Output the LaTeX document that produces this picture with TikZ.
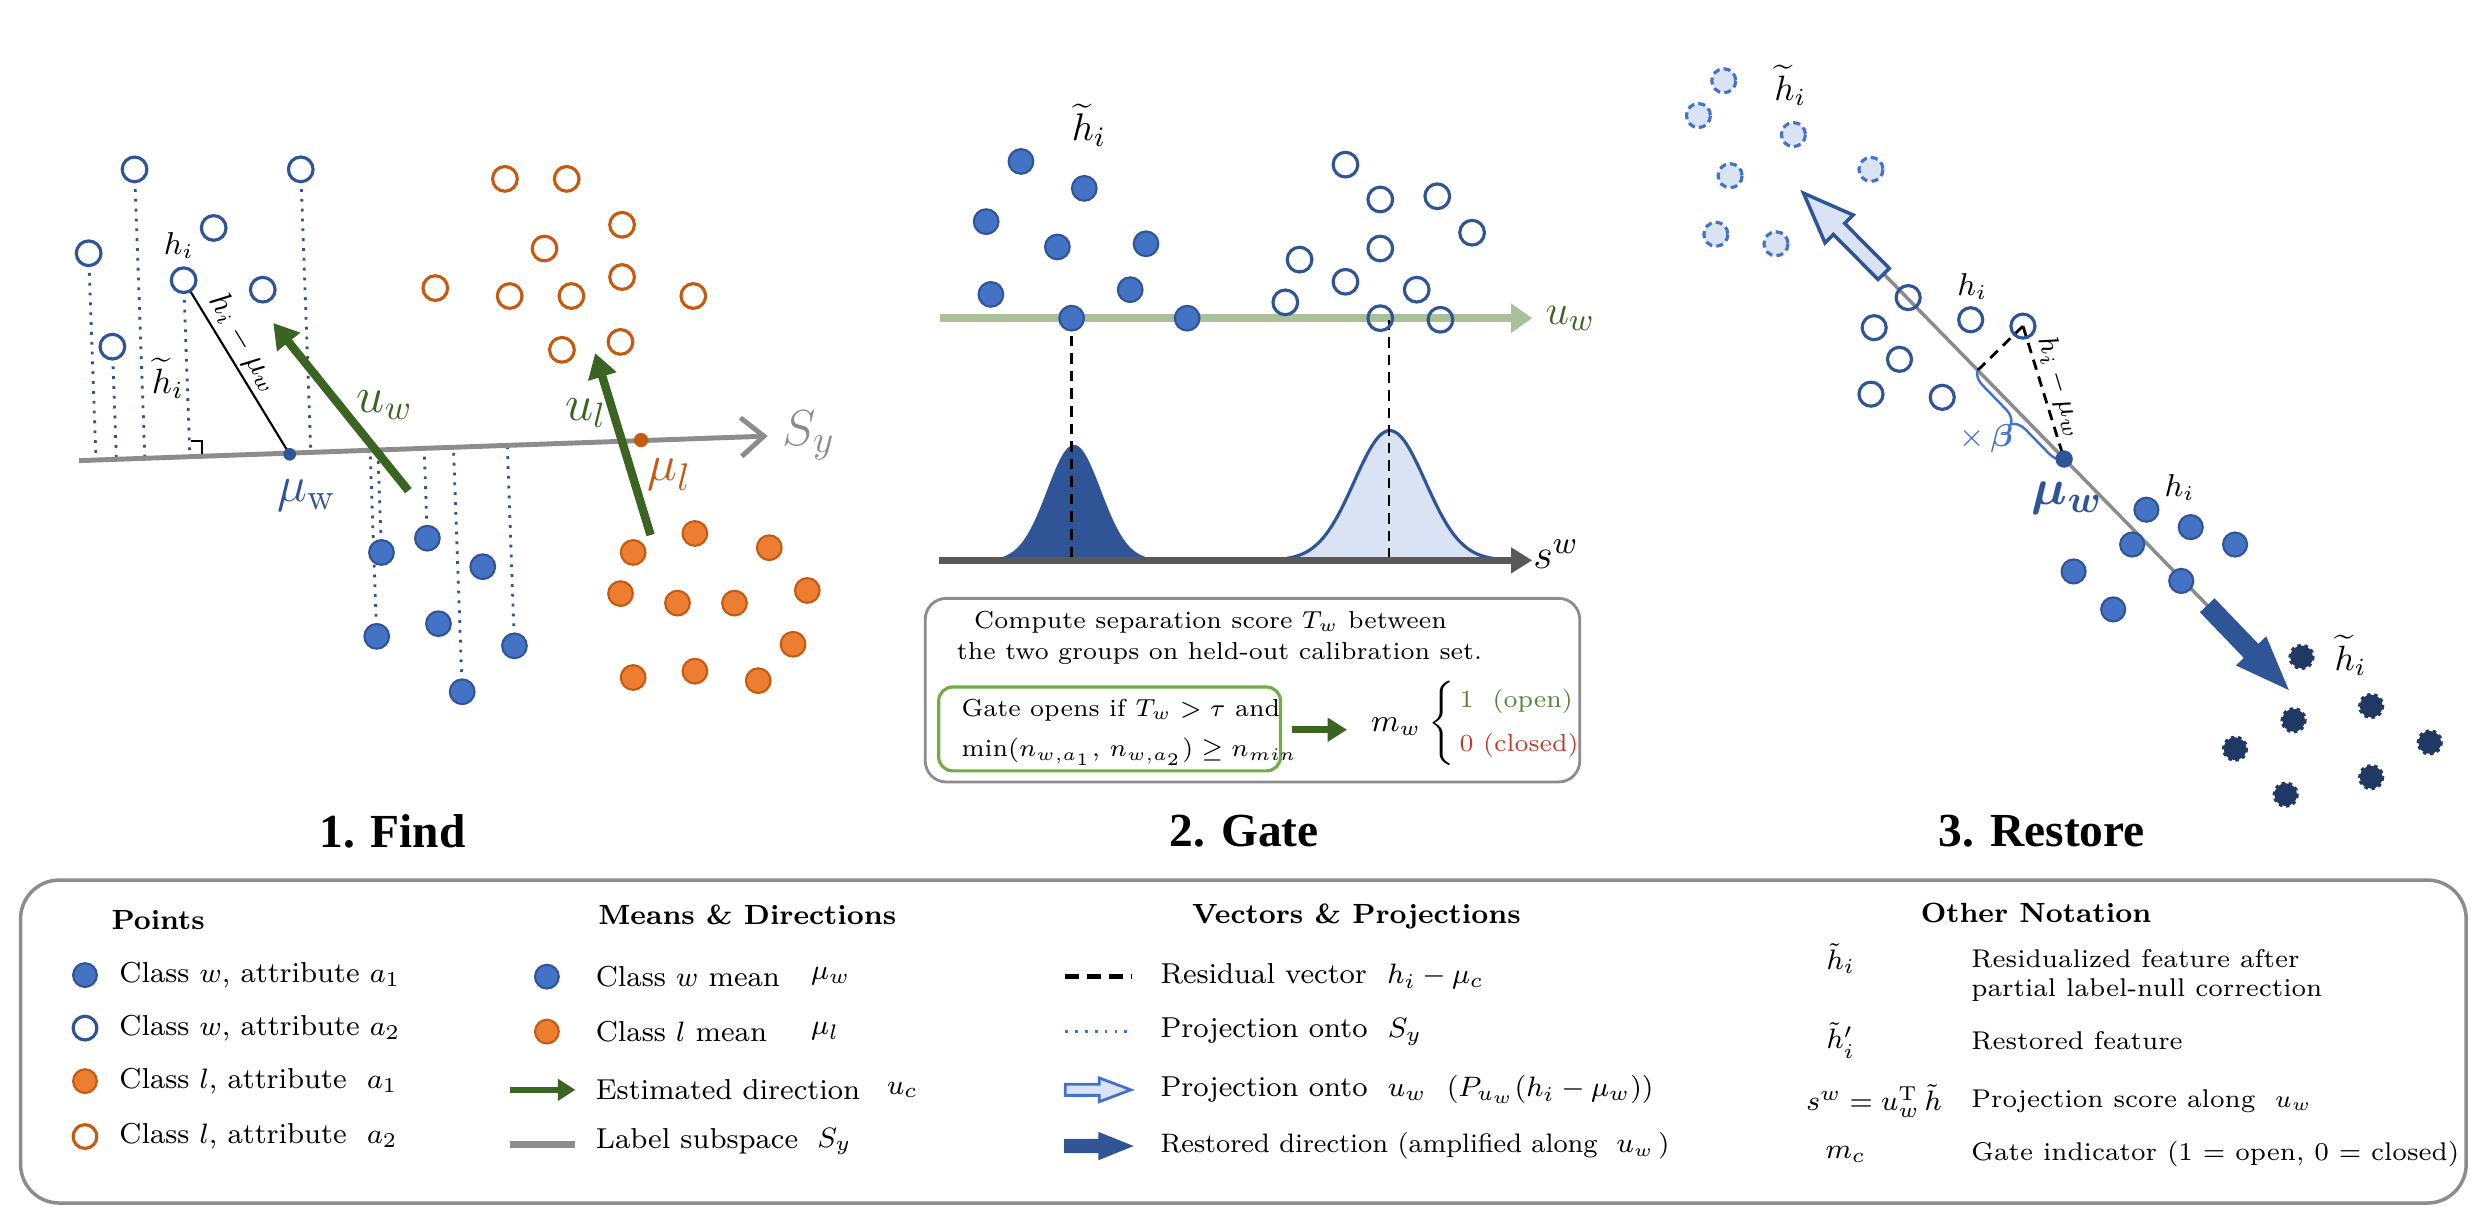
\documentclass[tikz,border=0pt]{standalone}
\usepackage{fontspec}
\usepackage{bm}
\newfontfamily\titlefont{Liberation Serif}
\usetikzlibrary{arrows.meta, calc, decorations.pathreplacing, positioning}
\definecolor{wblue}{HTML}{4472C4}
\definecolor{wedge}{HTML}{2F5597}
\definecolor{lorange}{HTML}{ED7D31}
\definecolor{ledge}{HTML}{C55A11}
\definecolor{dirgreen}{HTML}{3B6321}
\definecolor{axgreen}{HTML}{A9C19A}
\definecolor{paleblue}{HTML}{DAE3F3}
\definecolor{restorenavy}{HTML}{1F3864}
\definecolor{boxgray}{HTML}{8C8C8C}
\definecolor{gategreen}{HTML}{70AD47}
\definecolor{opengreen}{HTML}{548235}
\definecolor{closedred}{HTML}{C0392B}
\tikzset{
	wfill/.style={fill=wblue, draw=wedge, line width=0.6pt},
	wopen/.style={draw=wedge, line width=0.9pt},
	lfill/.style={fill=lorange, draw=ledge, line width=0.6pt},
	lopen/.style={draw=ledge, line width=0.9pt},
	wghost/.style={fill=paleblue, draw=wblue, line width=0.9pt, dash pattern=on 2pt off 1.2pt},
	wdark/.style={fill=restorenavy, draw=restorenavy, line width=1pt, densely dotted},
	projS/.style={draw=wedge, line width=0.8pt, dotted},
	resid/.style={black, line width=0.8pt, dash pattern=on 3pt off 2pt},
	dirarrow/.style={dirgreen, line width=2.4pt, -{Triangle[length=7pt,width=8pt]}},
	lab/.style={inner sep=1pt, font=\fontsize{9}{10}\selectfont},
	biglab/.style={inner sep=1pt, font=\fontsize{14}{16}\selectfont},
	gatetext/.style={anchor=west, inner sep=0pt, font=\fontsize{7}{8.5}\selectfont},
	legtext/.style={anchor=west, inner sep=0pt, font=\fontsize{8.2}{10}\selectfont},
	othtext/.style={anchor=west, inner sep=0pt, font=\fontsize{7.3}{9}\selectfont},
	leghead/.style={anchor=west, inner sep=0pt, font=\fontsize{7.9}{10}\selectfont\bfseries},
	titletext/.style={inner sep=0pt, font=\titlefont\bfseries\fontsize{13.5}{15}\selectfont}
}

\begin{document}
\begin{tikzpicture}[x=0.1583mm, y=-0.1583mm]
	\useasboundingbox (0,0) rectangle (1568,769);

	% 1. Find
	\coordinate (S1) at (50,291);
	\coordinate (S2) at (485,275.5);
	\coordinate (hi) at (116,177);
	\coordinate (muw) at (183,287);
	\coordinate (mul) at (405,278);
	\foreach \x/\y in {56/160,71/219,85/107,116/177,190/107,241/349,270/340,238/402,325/408,292/437}
		\draw[projS] (\x,\y) -- ($(S1)!(\x,\y)!(S2)$);
	\draw[boxgray, line width=1.4pt, -{Straight Barb[length=6.5pt,width=11pt]}] (S1) -- (S2);
	\draw[black, line width=0.5pt] (120.5,278.6) -- (127.6,278.6) -- (127.6,287);
	\draw[black, line width=0.6pt] (hi) -- (muw)
		node[pos=0.42, sloped, above, lab] (hmw) {$h_i-\mu_w$};
	\foreach \x/\y in {85/107,190/107,135/144,56/160,116/177,166/183,71/219}
		\draw[wopen, fill=white] (\x,\y) circle (7.8);
	\foreach \x/\y in {241/349,270/340,305/358,238/402,277/394,325/408,292/437}
		\draw[wfill] (\x,\y) circle (7.8);
	\foreach \x/\y in {319/113,358/113,393/142,344/157,275/182,322/187,361/187,393/175,438/187,355/221,392/216}
		\draw[lopen] (\x,\y) circle (7.8);
	\foreach \x/\y in {400/349,439/337,486/346,392/375,428/381,464/381,510/373,501/407,400/428,439/424,479/430}
		\draw[lfill] (\x,\y) circle (7.8);
	\fill[wedge] (muw) circle (4);
	\fill[ledge] (mul) circle (4.5);
	\draw[dirarrow] (258,310) -- (172.6,204);
	\draw[dirarrow] (411,338) -- (376,223);
	\node[lab] (hilab) at (113,155) {$h_i$};
	\node[lab, font=\fontsize{10}{11}\selectfont] (htlab) at (106,239) {$\widetilde{h}_i$};
	\node[biglab, text=dirgreen] (uwlab) at (243,256) {$u_w$};
	\node[biglab, text=dirgreen] (ullab) at (370,261) {$u_l$};
	\node[biglab, text=wedge, font=\fontsize{15}{16}\selectfont] (muwlab) at (194,313) {$\mu_{\mathrm{w}}$};
	\node[biglab, text=ledge, font=\fontsize{15}{16}\selectfont] (mullab) at (423,300) {$\mu_l$};
	\node[biglab, text=boxgray, font=\fontsize{15}{16}\selectfont] (sylab) at (511,275) {$S_y$};

	% 2. Gate
	\fill[wedge] plot[domain=610:748, samples=80, smooth] (\x,{354-73*exp(-(\x-678.5)*(\x-678.5)/578)}) -- cycle;
	\filldraw[fill=paleblue, draw=wedge, line width=0.9pt] plot[domain=799:957, samples=80, smooth] (\x,{354-82*exp(-(\x-878)*(\x-878)/1012.5)}) -- cycle;
	\draw[axgreen, line width=2.2pt, -{Triangle[length=6pt,width=8pt]}] (594,201) -- (968,201);
	\draw[gray!70!black, line width=1.8pt, -{Triangle[length=6pt,width=7pt]}] (593,354) -- (968,354);
	\coordinate (gw) at (677,201);
	\coordinate (gl) at (877.5,202);
	\draw[resid] (gw) -- (gw |- 0,352);
	\draw[resid] (gl) -- (gl |- 0,352);
	\foreach \x/\y in {645/102,685/119,623/140,668/156,724/154,626/186,714/183,677/201,750/201}
		\draw[wfill] (\x,\y) circle (7.8);
	\foreach \x/\y in {850/104,872/126,908/124,930/147,872/157,821/164,850/178,895/183,812/191,872/201,910/202}
		\draw[wopen] (\x,\y) circle (7.8);
	\node[lab, font=\fontsize{11}{12}\selectfont] (ht2lab) at (688,79) {$\widetilde{h}_i$};
	\node[biglab, text=dirgreen, font=\fontsize{12.5}{14}\selectfont] (uw2lab) at (992,201) {$u_w$};
	\node[biglab, font=\fontsize{13}{14}\selectfont] (swlab) at (983,350) {$s^w$};

	\draw[boxgray, line width=0.8pt, rounded corners=6pt] (584.5,378) rectangle (998,494);
	\node[gatetext] (calc1) at (615,393) {Compute separation score $T_w$ between};
	\node[gatetext] (calc2) at (604,413) {the two groups on held-out calibration set.};
	\draw[gategreen, line width=0.9pt, rounded corners=4pt] (593,434) rectangle (809,487);
	\node[gatetext] (rule1) at (607,448.5) {Gate opens if $T_w>\tau$ and};
	\node[gatetext] (rule2) at (607,475) {$\min(n_{w,a_1},\,n_{w,a_2})\geq n_{min}$};
	\draw[dirgreen, line width=2pt, -{Triangle[length=5.5pt,width=6.5pt]}] (816.5,461) -- (851,461);
	\node[inner sep=0pt, font=\fontsize{9}{10}\selectfont] (mw) at (882,459) {$m_w$};
	\node[anchor=west, inner sep=0pt, font=\fontsize{7}{8.5}\selectfont] (gatecases) at (902,457)
		{$\left\{\,\begin{array}{@{}l@{}}\mbox{\color{opengreen}1~~(open)}\\[4pt]\mbox{\color{closedred}0~(closed)}\end{array}\right.$};

	% 3. Restore
	\coordinate (R1) at (1190,173);
	\coordinate (R2) at (1395,383);
	\coordinate (hi3) at (1278,206);
	\coordinate (muw3) at (1304,290);
	\coordinate (foot3) at ($(R1)!(hi3)!(R2)$);
	\draw[boxgray, line width=1pt] (R1) -- (R2);
	\begin{scope}[shift={(R1)}, rotate=134.8]
		\filldraw[fill=paleblue, draw=wedge, line width=1pt] (0,-5) -- (40,-5) -- (40,-12.5) -- (71.8,0) -- (40,12.5) -- (40,5) -- (0,5) -- cycle;
	\end{scope}
	\begin{scope}[shift={(R2)}, rotate=-46.1]
		\filldraw[fill=wedge, draw=wedge, line width=0.8pt] (0,-5.5) -- (40,-5.5) -- (40,-12) -- (71,0) -- (40,12) -- (40,5.5) -- (0,5.5) -- cycle;
	\end{scope}
	\draw[resid] (hi3) -- (foot3);
	\draw[resid] (hi3) -- (muw3)
		node[midway, sloped, above, lab, font=\fontsize{8.5}{9}\selectfont] (hmw3) {$h_i-\mu_w$};
	\draw[wblue, line width=0.7pt, decorate, decoration={brace, mirror, amplitude=4pt}] (foot3) -- (muw3);
	\foreach \x/\y in {1089/51,1073/73,1133/85,1093/111,1182/107,1084/148,1122/154}
		\draw[wghost] (\x,\y) circle (7.6);
	\foreach \x/\y in {1205.5/188,1184/207,1245/202,1278/206,1200/227,1182/249,1227/251}
		\draw[wopen] (\x,\y) circle (7.6);
	\foreach \x/\y in {1356/322,1384/333,1412/344,1347/344,1378/367,1310/361,1335/385}
		\draw[wfill] (\x,\y) circle (7.6);
	\foreach \x/\y in {1454/415,1449/455,1498/446,1412/473,1535/469,1498/491,1444/502}
		\draw[wdark] (\x,\y) circle (7.2);
	\fill[wedge] (muw3) circle (5.5);
	\node[lab, font=\fontsize{10}{11}\selectfont] (ht3lab) at (1131,54) {$\widetilde{h}_i$};
	\node[lab] (hi3lab) at (1246,181) {$h_i$};
	\node[lab, text=wblue] (betalab) at (1255,277) {$\times\,\bm{\beta}$};
	\node[biglab, text=wedge, font=\fontsize{15}{16}\selectfont] (muw3lab) at (1306,315) {$\bm{\mu_w}$};
	\node[lab] (hi4lab) at (1377,308) {$h_i$};
	\node[lab, font=\fontsize{10}{11}\selectfont] (ht4lab) at (1485,414) {$\widetilde{h}_i$};

	% titles
	\node[titletext] (find) at (248,525) {1. Find};
	\node[titletext] (gate) at (786,525) {2. Gate};
	\node[titletext] (restore) at (1290,525) {3. Restore};

	% legend
	\draw[boxgray, line width=1pt, rounded corners=11pt] (13,556) rectangle (1558,760);
	\node[leghead] (hpoints) at (70,581) {Points};
	\foreach \y/\sty/\txt [count=\k] in {616/wfill/{Class $w$, attribute $a_1$}, 649.5/wopen/{Class $w$, attribute $a_2$}, 683/lfill/{Class $l$, attribute\ \ $a_1$}, 718/lopen/{Class $l$, attribute\ \ $a_2$}}
	{
		\draw[\sty] (53.7,\y) circle (7.5);
		\node[legtext] (pt\k) at (75,\y) {\txt};
	}
	\node[leghead] (hmeans) at (377.5,578) {Means \& Directions};
	\draw[wfill] (345.5,617) circle (7.5);
	\draw[lfill] (345.5,651.7) circle (7.5);
	\draw[dirgreen, line width=1.6pt, -{Triangle[length=5pt,width=6pt]}] (322,688.5) -- (363.5,688.5);
	\draw[boxgray, line width=1.9pt] (322,723) -- (363.5,723);
	\node[legtext] (mn1) at (376,617) {Class $w$ mean};
	\node[legtext] (mn2) at (376,651.7) {Class $l$ mean};
	\node[legtext] (mn3) at (376,688.5) {Estimated direction};
	\node[legtext] (mn4) at (376,721) {Label subspace};
	\node[legtext] (mn1s) at (512,617) {$\mu_w$};
	\node[legtext] (mn2s) at (512,651.7) {$\mu_l$};
	\node[legtext] (mn3s) at (560,688.5) {$u_c$};
	\node[legtext] (mn4s) at (516,721) {$S_y$};
	\node[leghead] (hvec) at (752.7,579) {Vectors \& Projections};
	\draw[black, line width=1.3pt, dash pattern=on 4pt off 2.2pt] (673,617) -- (714.4,617);
	\draw[wblue, line width=0.8pt, dotted] (673,651.7) -- (714.4,651.7);
	\filldraw[fill=paleblue, draw=wblue, line width=0.8pt] (673,685) -- (694.5,685) -- (694.5,681) -- (714.4,688.5) -- (694.5,696) -- (694.5,692) -- (673,692) -- cycle;
	\filldraw[fill=wedge, draw=wedge, line width=0.6pt] (673,720.2) -- (694.5,720.2) -- (694.5,716) -- (714.4,724) -- (694.5,732) -- (694.5,727.8) -- (673,727.8) -- cycle;
	\node[legtext] (vc1) at (732.7,617) {Residual vector\ \ $h_i-\mu_c$};
	\node[legtext] (vc2) at (732.7,651.7) {Projection onto\ \ $S_y$};
	\node[legtext] (vc3) at (732.7,688.5) {Projection onto\ \ $u_w$\ \ $(P_{u_w}(h_i-\mu_w))$};
	\node[legtext, font=\fontsize{7.6}{9.5}\selectfont] (vc4) at (732.7,724) {Restored direction (amplified along\ \ $u_w$\,)};
	\node[leghead] (hother) at (1213,577) {Other Notation};
	\node[legtext, anchor=center] (sym1) at (1163,605.6) {$\tilde{h}_i$};
	\node[legtext, anchor=center] (sym2) at (1163,657.4) {$\tilde{h}'_i$};
	\node[legtext, anchor=center] (sym3) at (1184,695.5) {$s^w=u_w^{\mathrm{T}}\,\tilde{h}$};
	\node[legtext, anchor=center] (sym4) at (1166,729.3) {$m_c$};
	\node[othtext] (ot1) at (1245,605.6) {Residualized feature after};
	\node[othtext] (ot1b) at (1245,625.7) {partial label-null correction};
	\node[othtext] (ot2) at (1245,657.4) {Restored feature};
	\node[othtext] (ot3) at (1245,695.5) {Projection score along\ \ $u_w$};
	\node[othtext] (ot4) at (1245,729.3) {Gate indicator (1 = open, 0 = closed)};
\end{tikzpicture}
\end{document}
